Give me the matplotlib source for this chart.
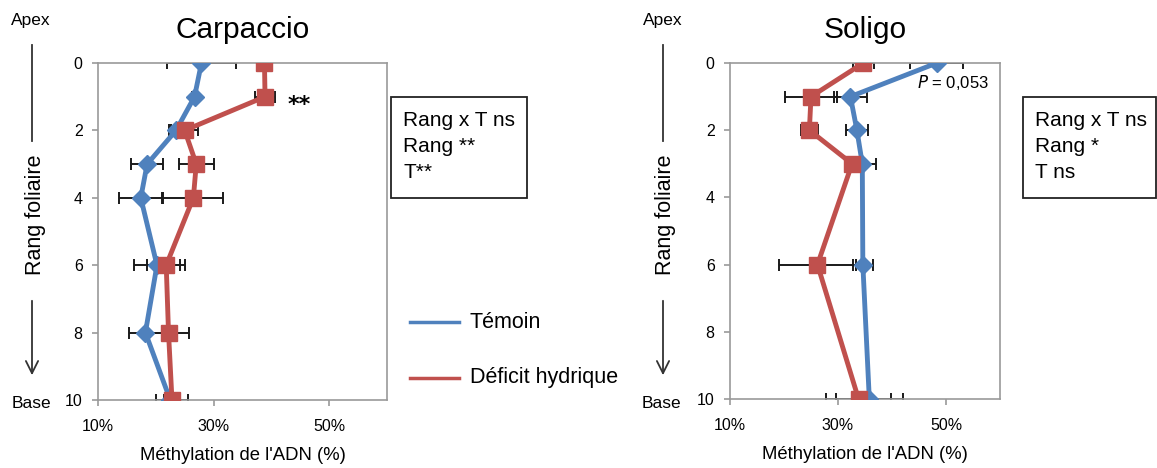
import numpy as np
import matplotlib
matplotlib.use("Agg")
import matplotlib.pyplot as plt
from matplotlib.patches import FancyArrowPatch

plt.rcParams['font.family'] = ['Liberation Sans', 'DejaVu Sans']

# Carpaccio: rang foliaire, méthylation (%), erreur
carp_rang = [0, 1, 2, 3, 4, 6, 8, 10]
carp_temoin = [27.9, 26.7, 23.5, 18.5, 17.4, 20.2, 18.2, 22.5]
carp_temoin_err = [6.0, 0.5, 1.3, 2.8, 3.7, 4.0, 2.9, 1.0]
carp_deficit = [38.8, 38.9, 25.0, 27.0, 26.5, 21.8, 22.2, 22.8]
carp_deficit_err = [0.3, 1.7, 2.3, 3.0, 5.2, 3.3, 3.6, 2.8]

# Soligo
sol_rang = [0, 1, 2, 3, 6, 10]
sol_temoin = [48.3, 32.3, 33.5, 34.5, 34.6, 35.8]
sol_temoin_err = [4.9, 3.0, 2.0, 2.5, 1.9, 6.2]
sol_deficit = [34.7, 25.0, 24.7, 32.6, 26.2, 33.8]
sol_deficit_err = [1.9, 4.9, 1.6, 0.3, 7.2, 6.0]

x_ticks = [10, 30, 50]
y_ticks = [0, 2, 4, 6, 8, 10]

BLUE = '#4F81BD'
RED = '#C0504D'
W, H = 1157, 468

fig = plt.figure(figsize=(W / 100, H / 100), dpi=100)


def px_axes(x0, y0, x1, y1):
    return fig.add_axes([x0 / W, 1 - y1 / H, (x1 - x0) / W, (y1 - y0) / H])


def draw_panel(ax, title, rang, tem, tem_err, def_, def_err):
    ax.errorbar(tem, rang, xerr=tem_err, fmt='none', ecolor='#1a1a1a',
                elinewidth=1.4, capsize=4, capthick=1.4, zorder=2)
    ax.errorbar(def_, rang, xerr=def_err, fmt='none', ecolor='#1a1a1a',
                elinewidth=1.4, capsize=4, capthick=1.4, zorder=2)
    ax.plot(tem, rang, color=BLUE, lw=3.5, marker='D', ms=9, zorder=3,
            label='Témoin')
    ax.plot(def_, rang, color=RED, lw=3.5, marker='s', ms=12, zorder=4,
            label='Déficit hydrique')
    ax.set_xlim(10, 60)
    ax.set_ylim(10, 0)
    ax.set_xticks(x_ticks)
    ax.set_xticklabels([f'{v}%' for v in x_ticks])
    ax.set_yticks(y_ticks)
    for s in ax.spines.values():
        s.set_color('#9a9a9a')
        s.set_linewidth(1.2)
    ax.tick_params(length=4, width=1.2, color='#9a9a9a', labelsize=11.5,
                   pad=7)
    ax.tick_params(axis='x', pad=10)
    ax.set_title(title, fontsize=21.5, pad=18)
    ax.set_xlabel("Méthylation de l'ADN (%)", fontsize=13.3, labelpad=9)


ax1 = px_axes(98, 63, 387, 400)
draw_panel(ax1, 'Carpaccio', carp_rang, carp_temoin, carp_temoin_err,
           carp_deficit, carp_deficit_err)
ax1.annotate('**', (carp_deficit[1], carp_rang[1]), xytext=(16, -6),
             textcoords='offset points', fontsize=16, fontweight='bold',
             family=['DejaVu Sans'], va='center')

ax2 = px_axes(730, 63, 1000, 399)
draw_panel(ax2, 'Soligo', sol_rang, sol_temoin, sol_temoin_err,
           sol_deficit, sol_deficit_err)
ax2.annotate('$\\it{P}$ = 0,053', (sol_temoin[0], sol_rang[0]),
             xytext=(-14, -14), textcoords='offset points', fontsize=12,
             va='center', ha='left')


def side_labels(xc, apex_x, base_x):
    fig.text(apex_x / W, 1 - 20 / H, 'Apex', fontsize=12.5, ha='center',
             va='center')
    fig.text(base_x / W, 1 - 404 / H, 'Base', fontsize=12.5, ha='center',
             va='center')
    fig.add_artist(plt.Line2D([xc / W] * 2, [1 - 45 / H, 1 - 141 / H],
                              color='#333333', lw=1.3))
    fig.text((xc + 3) / W, 1 - 215 / H, 'Rang foliaire', fontsize=15.5,
             rotation=90, ha='center', va='center')
    fig.add_artist(FancyArrowPatch(
        (xc / W, 1 - 298 / H), (xc / W, 1 - 378 / H),
        transform=fig.transFigure, arrowstyle='->', mutation_scale=22,
        color='#333333', lw=1.3))


side_labels(32, 31, 31)
side_labels(663, 663, 661)


def stats_box(x0, y0, x1, y1, lines):
    box = plt.Rectangle((x0 / W, 1 - y1 / H), (x1 - x0) / W, (y1 - y0) / H,
                        transform=fig.transFigure, fill=False,
                        edgecolor='#222222', lw=1.3)
    fig.add_artist(box)
    for i, line in enumerate(lines):
        fig.text((x0 + 12) / W, 1 - (y0 + 23 + 26.5 * i) / H, line,
                 fontsize=15, va='center', ha='left')


stats_box(391, 97, 527, 198, ['Rang x T ns', 'Rang **', 'T**'])
stats_box(1023, 97, 1156, 198, ['Rang x T ns', 'Rang *', 'T ns'])

# légende commune
for y, lab, c in [(322, 'Témoin', BLUE), (378, 'Déficit hydrique', RED)]:
    fig.add_artist(plt.Line2D([410 / W, 459 / W], [1 - y / H] * 2,
                              color=c, lw=2.5))
    fig.text(470 / W, 1 - y / H, lab, fontsize=15.5, va='center', ha='left')

fig.savefig('out.png', dpi=100)
